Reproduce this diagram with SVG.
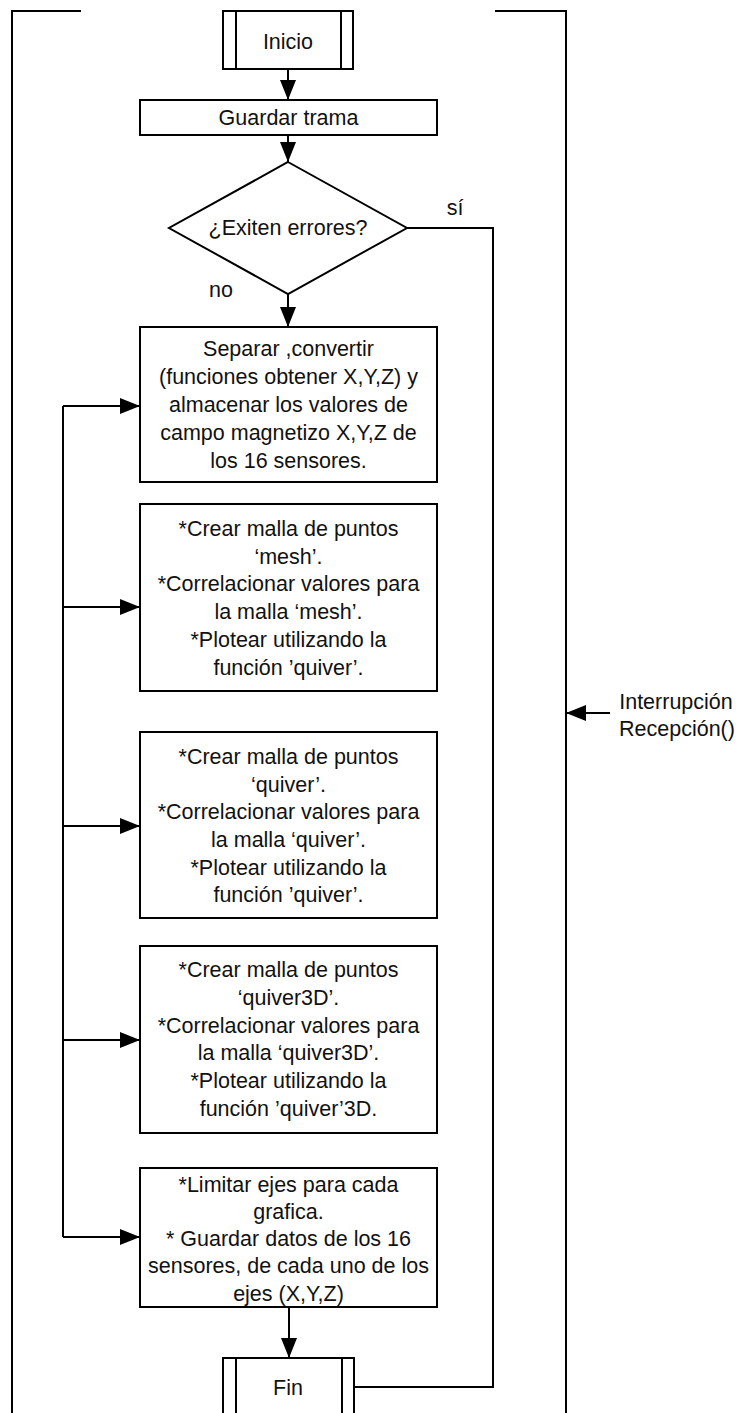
<svg xmlns="http://www.w3.org/2000/svg" width="740" height="1413" viewBox="0 0 740 1413">
  <defs>
    <marker id="arrow" markerUnits="userSpaceOnUse" markerWidth="20" markerHeight="16" refX="20" refY="8" orient="auto">
      <path d="M0,0 L20,8 L0,16 z" fill="#000"/>
    </marker>
    <style>
      .box { fill: #fff; stroke: #000; stroke-width: 2; }
      .line { fill: none; stroke: #000; stroke-width: 2; }
      .arr { fill: none; stroke: #000; stroke-width: 2; marker-end: url(#arrow); }
      text { font-family: "Liberation Sans", Arial, sans-serif; font-size: 21.5px; fill: #111; text-anchor: middle; dominant-baseline: central; }
    </style>
  </defs>
  <rect width="740" height="1413" fill="#fff"/>

  <!-- interrupt frame brackets -->
  <g id="frame">
    <path class="line" d="M81,11 H12 V1413"/>
    <path class="line" d="M495,11 H566 V1413"/>
  </g>

  <!-- connectors -->
  <g id="connectors">
    <line class="arr" x1="288" y1="69" x2="288" y2="100"/>
    <line class="arr" x1="288" y1="135" x2="288" y2="162"/>
    <line class="arr" x1="288" y1="294" x2="288" y2="327"/>
    <!-- yes branch: straight to Fin -->
    <path class="line" d="M407,228 H493 V1387 H354"/>
    <!-- processing bus -->
    <line class="line" x1="63" y1="406" x2="63" y2="1237"/>
    <line class="arr" x1="63" y1="406" x2="140" y2="406"/>
    <line class="arr" x1="63" y1="607" x2="140" y2="607"/>
    <line class="arr" x1="63" y1="826" x2="140" y2="826"/>
    <line class="arr" x1="63" y1="1040" x2="140" y2="1040"/>
    <line class="arr" x1="63" y1="1237" x2="140" y2="1237"/>
    <line class="arr" x1="289" y1="1307" x2="289" y2="1358"/>
    <!-- interrupt entry -->
    <line class="arr" x1="610" y1="713" x2="566" y2="713"/>
    <text x="455" y="208">sí</text>
    <text x="221" y="290">no</text>
    <text x="676" y="702">Interrupción</text>
    <text x="677" y="729">Recepción()</text>
  </g>

  <g id="inicio">
    <rect class="box" x="223" y="11" width="130" height="58"/>
    <line class="line" x1="236" y1="11" x2="236" y2="69"/>
    <line class="line" x1="341" y1="11" x2="341" y2="69"/>
    <text x="288" y="42">Inicio</text>
  </g>

  <g id="guardar-trama">
    <rect class="box" x="140" y="100" width="297" height="35"/>
    <text x="288.5" y="118">Guardar trama</text>
  </g>

  <g id="decision">
    <polygon class="box" points="288,162 407,228 288,294 169,228"/>
    <text x="288" y="228">¿Exiten errores?</text>
  </g>

  <g id="separar">
    <rect class="box" x="140" y="327" width="297" height="155"/>
    <text x="288.5" y="349">Separar ,convertir</text>
    <text x="288.5" y="377">(funciones obtener X,Y,Z) y</text>
    <text x="288.5" y="405">almacenar los valores de</text>
    <text x="288.5" y="433">campo magnetizo X,Y,Z de</text>
    <text x="288.5" y="461">los 16 sensores.</text>
  </g>

  <g id="mesh">
    <rect class="box" x="140" y="504" width="297" height="187"/>
    <text x="288.5" y="529">*Crear malla de puntos</text>
    <text x="288.5" y="557">‘mesh’.</text>
    <text x="288.5" y="584">*Correlacionar valores para</text>
    <text x="288.5" y="612">la malla ‘mesh’.</text>
    <text x="288.5" y="640">*Plotear utilizando la</text>
    <text x="288.5" y="668">función ’quiver’.</text>
  </g>

  <g id="quiver">
    <rect class="box" x="140" y="732" width="297" height="186"/>
    <text x="288.5" y="757">*Crear malla de puntos</text>
    <text x="288.5" y="785">‘quiver’.</text>
    <text x="288.5" y="812">*Correlacionar valores para</text>
    <text x="288.5" y="840">la malla ‘quiver’.</text>
    <text x="288.5" y="868">*Plotear utilizando la</text>
    <text x="288.5" y="895">función ’quiver’.</text>
  </g>

  <g id="quiver3d">
    <rect class="box" x="140" y="946" width="297" height="187"/>
    <text x="288.5" y="970">*Crear malla de puntos</text>
    <text x="288.5" y="998">‘quiver3D’.</text>
    <text x="288.5" y="1026">*Correlacionar valores para</text>
    <text x="288.5" y="1053">la malla ‘quiver3D’.</text>
    <text x="288.5" y="1081">*Plotear utilizando la</text>
    <text x="288.5" y="1109">función ’quiver’3D.</text>
  </g>

  <g id="limitar">
    <rect class="box" x="140" y="1168" width="297" height="139"/>
    <text x="288.5" y="1185">*Limitar ejes para cada</text>
    <text x="288.5" y="1212">grafica.</text>
    <text x="288.5" y="1239">* Guardar datos de los 16</text>
    <text x="288.5" y="1266">sensores, de cada uno de los</text>
    <text x="288.5" y="1294">ejes (X,Y,Z)</text>
  </g>

  <g id="fin">
    <rect class="box" x="223" y="1358" width="131" height="70"/>
    <line class="line" x1="236" y1="1358" x2="236" y2="1413"/>
    <line class="line" x1="342" y1="1358" x2="342" y2="1413"/>
    <text x="288" y="1388">Fin</text>
  </g>
</svg>
